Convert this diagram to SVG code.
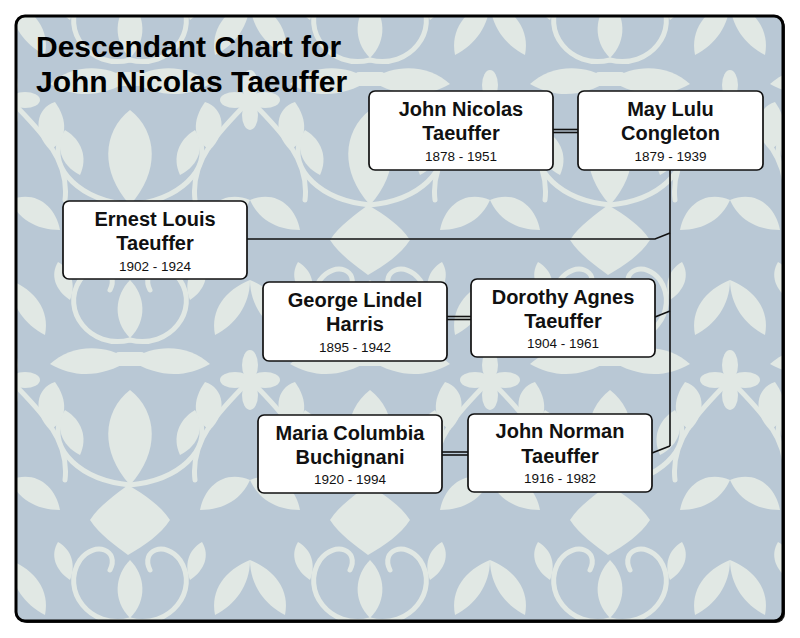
<svg xmlns="http://www.w3.org/2000/svg" width="800" height="638" viewBox="0 0 800 638">
<defs>
<pattern id="damask" x="10" y="-40" width="240" height="280" patternUnits="userSpaceOnUse">
<rect width="240" height="280" fill="#b9c8d5"/>
<g fill="#e1e8e4">
<path d="M120 40 C135 55 138 80 120 98 C102 80 105 55 120 40 Z"/>
<path d="M120 150 C148 172 150 212 120 245 C90 212 92 172 120 150 Z"/>
<path d="M120 120 C148 102 180 106 200 124 C176 138 148 138 120 120 Z"/>
<path d="M120 120 C92 102 60 106 40 124 C64 138 92 138 120 120 Z"/>
<path d="M118 245 C135 255 150 265 160 280 L80 280 C90 265 105 255 118 245 Z"/>
<path d="M80 0 C90 15 105 25 118 35 C135 25 150 15 160 0 Z"/>
<path d="M40 190 C22 172 26 148 45 142 C58 160 58 180 40 190 Z"/>
<path d="M200 190 C218 172 214 148 195 142 C182 160 182 180 200 190 Z"/>
<path d="M70 215 C50 205 45 185 55 170 C72 180 78 198 70 215 Z"/>
<path d="M170 215 C190 205 195 185 185 170 C168 180 162 198 170 215 Z"/>
<path d="M60 60 C45 50 40 35 48 22 C62 30 66 45 60 60 Z"/>
<path d="M180 60 C195 50 200 35 192 22 C178 30 174 45 180 60 Z"/>
<rect x="104" y="112" width="32" height="14" rx="5"/>
<g transform="translate(0,140)">
<ellipse cx="0" cy="-15" rx="8" ry="15"/>
<ellipse cx="0" cy="15" rx="8" ry="15"/>
<ellipse cx="-15" cy="0" rx="15" ry="8"/>
<ellipse cx="15" cy="0" rx="15" ry="8"/>
</g>
<g transform="translate(240,140)">
<ellipse cx="0" cy="-15" rx="8" ry="15"/>
<ellipse cx="0" cy="15" rx="8" ry="15"/>
<ellipse cx="-15" cy="0" rx="15" ry="8"/>
<ellipse cx="15" cy="0" rx="15" ry="8"/>
</g>
<path d="M0 40 C25 50 40 70 35 95 C15 85 0 65 0 40 Z"/>
<path d="M240 40 C215 50 200 70 205 95 C225 85 240 65 240 40 Z"/>
<path d="M0 240 C25 230 45 245 50 270 C25 270 8 258 0 240 Z"/>
<path d="M240 240 C215 230 195 245 190 270 C215 270 232 258 240 240 Z"/>
</g>
<g fill="none" stroke="#e1e8e4" stroke-width="5" stroke-linecap="round">
<path d="M120 100 C80 110 50 70 70 40 C85 20 110 30 100 50"/>
<path d="M120 100 C160 110 190 70 170 40 C155 20 130 30 140 50"/>
<path d="M120 245 C70 240 40 210 50 180"/>
<path d="M120 245 C170 240 200 210 190 180"/>
<path d="M0 140 C30 170 60 200 55 240"/>
<path d="M240 140 C210 170 180 200 185 240"/>
</g>
</pattern>
<style>
.node rect{fill:#ffffff;stroke:#111111;stroke-width:1.7}
.nm{font-family:"Liberation Sans",Arial,sans-serif;font-weight:bold;font-size:20px;fill:#111111;text-anchor:middle}
.dt{font-family:"Liberation Sans",Arial,sans-serif;font-size:13.5px;fill:#111111;text-anchor:middle}
.ttl{font-family:"Liberation Sans",Arial,sans-serif;font-weight:bold;font-size:30px;fill:#000000}
</style>
</defs>
<rect x="18" y="18" width="767" height="605" rx="9" fill="#222222"/>
<rect x="16" y="16" width="767" height="605" rx="9" fill="url(#damask)" stroke="#000000" stroke-width="3"/>
<g id="title">
<text class="ttl" x="36" y="57">Descendant Chart for</text>
<text class="ttl" x="36" y="92">John Nicolas Taeuffer</text>
</g>
<g id="connectors" fill="none" stroke="#111111" stroke-width="1.6">
<line x1="553" y1="129.5" x2="578" y2="129.5"/>
<line x1="553" y1="132.5" x2="578" y2="132.5"/>
<line x1="670" y1="170" x2="670" y2="446"/>
<polyline points="247,239 655,239 670,233"/>
<line x1="655" y1="317" x2="670" y2="311"/>
<line x1="652" y1="453" x2="670" y2="446"/>
<line x1="447" y1="316.5" x2="471" y2="316.5"/>
<line x1="447" y1="319.5" x2="471" y2="319.5"/>
<line x1="442" y1="452" x2="468" y2="452"/>
<line x1="442" y1="455" x2="468" y2="455"/>
</g>
<g id="john-nicolas" class="node">
<rect x="369" y="91" width="184" height="79" rx="6"/>
<text class="nm" x="461" y="116">John Nicolas</text>
<text class="nm" x="461" y="140">Taeuffer</text>
<text class="dt" x="461" y="161">1878 - 1951</text>
</g>
<g id="may-lulu" class="node">
<rect x="578" y="91" width="185" height="79" rx="6"/>
<text class="nm" x="670.5" y="116">May Lulu</text>
<text class="nm" x="670.5" y="140">Congleton</text>
<text class="dt" x="670.5" y="161">1879 - 1939</text>
</g>
<g id="ernest" class="node">
<rect x="63" y="201" width="184" height="78" rx="6"/>
<text class="nm" x="155" y="226">Ernest Louis</text>
<text class="nm" x="155" y="250">Taeuffer</text>
<text class="dt" x="155" y="271">1902 - 1924</text>
</g>
<g id="george" class="node">
<rect x="263" y="282" width="184" height="79" rx="6"/>
<text class="nm" x="355" y="307">George Lindel</text>
<text class="nm" x="355" y="331">Harris</text>
<text class="dt" x="355" y="352">1895 - 1942</text>
</g>
<g id="dorothy" class="node">
<rect x="471" y="279" width="184" height="78" rx="6"/>
<text class="nm" x="563" y="304">Dorothy Agnes</text>
<text class="nm" x="563" y="328">Taeuffer</text>
<text class="dt" x="563" y="348">1904 - 1961</text>
</g>
<g id="maria" class="node">
<rect x="258" y="415" width="184" height="78" rx="6"/>
<text class="nm" x="350" y="440">Maria Columbia</text>
<text class="nm" x="350" y="464">Buchignani</text>
<text class="dt" x="350" y="484">1920 - 1994</text>
</g>
<g id="john-norman" class="node">
<rect x="468" y="414" width="184" height="78" rx="6"/>
<text class="nm" x="560" y="438">John Norman</text>
<text class="nm" x="560" y="463">Taeuffer</text>
<text class="dt" x="560" y="483">1916 - 1982</text>
</g>
</svg>
